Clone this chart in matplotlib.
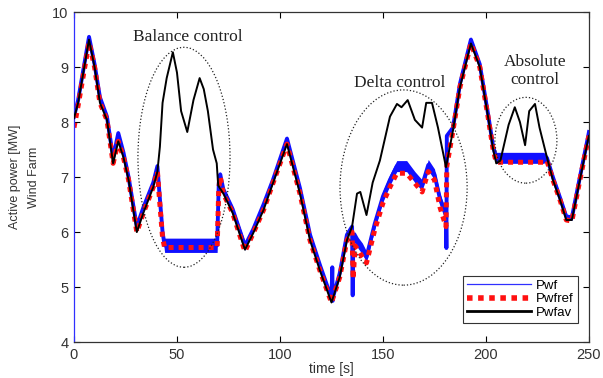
import matplotlib
matplotlib.use("Agg")
import matplotlib.pyplot as plt
from matplotlib.patches import Ellipse
from matplotlib.lines import Line2D
import numpy as np

# Pwfav (black)
t_av = [0, 2, 7.3, 10, 12.6, 16, 19, 21.5, 24, 26.5, 30.5, 33.7, 38.5, 40.5, 41.7, 43, 45, 48, 50,
        52, 55, 58, 61, 63, 65, 67.5, 69.3, 70, 72.5, 77, 83, 87, 92, 96.6, 103.4, 109.7, 114.6,
        119.4, 125, 129, 132.5, 135, 137.4, 139, 142, 145, 148.5, 153.4, 156.8, 159, 162, 165.5,
        169, 171, 173.8, 176.7, 180.6, 184, 187.4, 192.7, 197, 201, 203.5, 205, 207, 211, 214,
        216.5, 219, 221, 223.8, 226, 229.6, 232.5, 236, 239, 241.7, 245.6, 249.5, 250]
p_av = [8.07, 8.35, 9.5, 9.0, 8.35, 8.04, 7.25, 7.65, 7.36, 6.95, 6.0, 6.35, 6.82, 7.1, 7.55, 8.35,
        8.8, 9.27, 8.9, 8.2, 7.82, 8.4, 8.8, 8.6, 8.2, 7.5, 7.25, 6.85, 6.7, 6.35, 5.68, 5.98, 6.4,
        6.89, 7.6, 6.7, 5.85, 5.3, 4.72, 5.18, 5.85, 6.1, 6.7, 6.73, 6.31, 6.9, 7.3, 8.1, 8.33,
        8.27, 8.4, 8.04, 7.9, 8.35, 8.35, 7.9, 7.18, 7.85, 8.64, 9.43, 9.0, 8.1, 7.5, 7.25, 7.3,
        7.95, 8.27, 8.0, 7.58, 8.2, 8.33, 7.9, 7.36, 6.95, 6.58, 6.22, 6.22, 6.95, 7.67, 7.75]

# Pwfref (red dotted)
t_ref = [0, 2, 7.3, 10, 12.6, 16, 19, 21.5, 24, 26.5, 30.5, 33.7, 38.5, 40.5, 41.5, 43, 44, 69.5,
         70.3, 71, 72.5, 77, 83, 87, 92, 96.6, 103.4, 109.7, 114.6, 119.4, 125, 129, 132.5, 135,
         135.5, 136.5, 138, 140, 142, 146, 150, 153.4, 156.7, 161.5, 165.5, 169, 172, 175, 177.7,
         180.6, 181, 184, 187.4, 192.7, 197, 201, 203.5, 205, 228, 229.6, 232.5, 236, 239, 241.7,
         245.6, 249.5, 250]
p_ref = [7.9, 8.3, 9.45, 9.0, 8.35, 8.04, 7.25, 7.65, 7.36, 6.95, 6.0, 6.35, 6.82, 7.1, 6.6, 5.9,
         5.72, 5.72, 6.8, 7.0, 6.7, 6.35, 5.65, 5.98, 6.4, 6.89, 7.6, 6.7, 5.85, 5.3, 4.72, 5.18,
         5.85, 6.0, 5.15, 5.75, 5.67, 5.55, 5.44, 6.04, 6.53, 6.82, 7.07, 7.07, 6.89, 6.73, 7.1,
         6.95, 6.45, 6.1, 7.2, 7.85, 8.64, 9.43, 9.0, 8.1, 7.5, 7.27, 7.27, 7.3, 6.95, 6.58,
         6.22, 6.2, 6.95, 7.67, 7.75]

# Pwf (blue, measured) and its ripple half-width
t_wf = [0, 2, 7.3, 10, 12.6, 16, 19, 21.5, 24, 26.5, 30.5, 33.7, 38.5, 40.5, 41.5, 43, 44, 69.5,
        70.3, 71, 72.5, 77, 83, 87, 92, 96.6, 103.4, 109.7, 114.6, 119.4, 125, 125.4, 125.6, 126,
        129, 132.5, 135, 135.3, 135.6, 136.5, 138, 140, 142, 146, 150, 153.4, 156.7, 161.5, 165.5,
        169, 172, 175, 177.7, 180.6, 180.8, 181, 184, 187.4, 192.7, 197, 201, 203.5, 205, 228,
        229.6, 232.5, 236, 239, 241.7, 245.6, 249.5, 250]
p_wf = [8.1, 8.4, 9.55, 9.05, 8.45, 8.1, 7.35, 7.8, 7.45, 7.0, 6.1, 6.45, 6.9, 7.2, 6.7, 6.0,
        5.76, 5.76, 6.9, 7.05, 6.78, 6.42, 5.75, 6.05, 6.5, 6.95, 7.7, 6.8, 5.95, 5.4, 4.8, 5.36,
        4.75, 4.85, 5.25, 5.95, 6.1, 4.85, 5.9, 5.9, 5.8, 5.7, 5.55, 6.15, 6.65, 6.95, 7.2, 7.2,
        7.0, 6.85, 7.22, 7.05, 6.6, 6.3, 5.71, 7.75, 7.9, 8.7, 9.5, 9.05, 8.15, 7.55, 7.35, 7.35,
        7.35, 7.0, 6.62, 6.28, 6.26, 7.0, 7.72, 7.82]
s_wf = [0.05, 0.05, 0.05, 0.05, 0.05, 0.05, 0.05, 0.05, 0.05, 0.05, 0.05, 0.05, 0.05, 0.05, 0.05,
        0.05, 0.13, 0.13, 0.05, 0.05, 0.05, 0.05, 0.08, 0.05, 0.05, 0.05, 0.05, 0.05, 0.05, 0.05,
        0.05, 0.0, 0.0, 0.05, 0.05, 0.05, 0.05, 0.0, 0.1, 0.1, 0.1, 0.1, 0.1, 0.1, 0.1, 0.1, 0.1,
        0.1, 0.1, 0.1, 0.1, 0.1, 0.1, 0.1, 0.0, 0.0, 0.05, 0.05, 0.05, 0.05, 0.05, 0.05, 0.1, 0.1,
        0.05, 0.05, 0.05, 0.05, 0.05, 0.05, 0.05, 0.05]

x_ticks = [0, 50, 100, 150, 200, 250]
y_ticks = [4, 5, 6, 7, 8, 9, 10]

# annotation regions: (centre t, centre P, width, height, label, label t, label P)
regions = [
    (53.4, 7.36, 44.7, 4.0, "Balance control", 55.3, 9.54),
    (160.0, 6.81, 61.7, 3.55, "Delta control", 158.0, 8.71),
    (219.4, 7.67, 30.1, 1.56, "Absolute\ncontrol", 224.0, 8.93),
]

fig = plt.figure(figsize=(6.03, 3.78), dpi=100)
ax = fig.add_axes([0.1227, 0.095, 0.854, 0.873])

tw = np.array(t_wf)
pw = np.array(p_wf)
sw = np.array(s_wf)
ax.fill_between(tw, pw - sw, pw + sw, color="#1010ff", lw=0, zorder=1)
ax.plot(tw, pw, color="#1010ff", lw=2.8, zorder=1)
ax.plot(t_ref, p_ref, color="#ff1010", lw=3.6, linestyle=(0, (1, 1)),
        dash_capstyle="butt", zorder=2)
ax.plot(t_av, p_av, color="black", lw=1.4, zorder=3)

for cx, cy, w, h, lab, lx, ly in regions:
    ax.add_patch(Ellipse((cx, cy), w, h, fill=False, ls=":", lw=0.9, ec="#222222", zorder=4))
    ax.text(lx, ly, lab, family="Liberation Serif", fontsize=12.5, ha="center",
            va="center", color="#222222", linespacing=1.1)

ax.set_xlim(0, 250)
ax.set_ylim(4, 10)
ax.set_xticks(x_ticks)
ax.set_yticks(y_ticks)
ax.tick_params(direction="in", top=True, right=True, labelsize=10.5, labelcolor="#333333",
               length=4, width=0.8, pad=4)
for lab in ax.get_xticklabels() + ax.get_yticklabels():
    lab.set_family("Liberation Sans")
for sp in ax.spines.values():
    sp.set_linewidth(0.9)
    sp.set_color("#333333")
ax.spines["left"].set_color("#3030ff")

ax.set_xlabel("time [s]", family="Liberation Sans", fontsize=10, color="#333333", labelpad=0)
ax.set_ylabel("Active power [MW]\nWind Farm", family="Liberation Sans", fontsize=9,
              color="#333333", labelpad=9, linespacing=1.7)

handles = [
    Line2D([], [], color="#3030ff", lw=0.9),
    Line2D([], [], color="#ff1010", lw=4, linestyle=(0, (1, 1)), dash_capstyle="butt"),
    Line2D([], [], color="black", lw=2),
]
leg = ax.legend(handles, ["Pwf", "Pwfref", "Pwfav"], loc="lower right",
                bbox_to_anchor=(0.978, 0.058), fancybox=False, edgecolor="#333333",
                framealpha=1, handlelength=4.8, fontsize=9.5, borderpad=0.3,
                labelspacing=0.1, handletextpad=0.4, borderaxespad=0)
leg.get_frame().set_linewidth(0.8)
for txt in leg.get_texts():
    txt.set_family("Liberation Sans")

fig.savefig("out.png", dpi=100)
